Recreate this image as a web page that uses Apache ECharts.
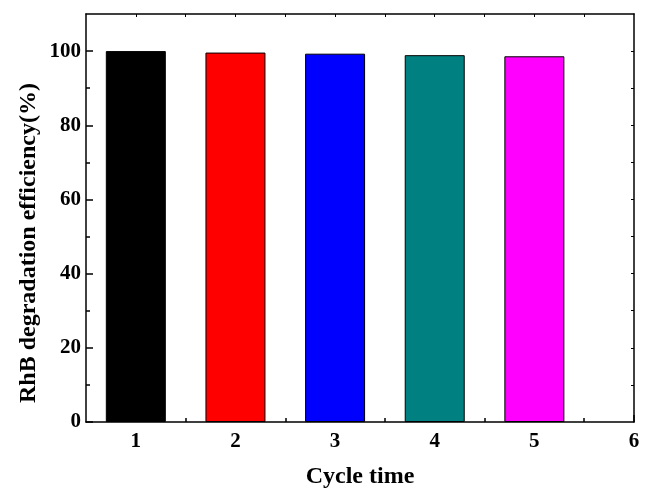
<!DOCTYPE html>
<html>
<head>
<meta charset="utf-8">
<script src="https://cdn.jsdelivr.net/npm/echarts@6/dist/echarts.min.js"></script>
<style>html,body{margin:0;padding:0;background:#fff}#c{width:648px;height:490px}</style>
</head>
<body>
<div id="c"></div>
<script>
const cycles = [1, 2, 3, 4, 5];
const efficiency = [100, 99.6, 99.3, 98.9, 98.6];
const barColors = ['#000000', '#ff0000', '#0000ff', '#008080', '#ff00ff'];
const xTickLabels = [1, 2, 3, 4, 5, 6];
const xMinorTicks = [1.5, 2.5, 3.5, 4.5, 5.5];
const yTickLabels = [0, 20, 40, 60, 80, 100];
const yMinorTicks = [10, 30, 50, 70, 90];
const xTitle = 'Cycle time';
const yTitle = 'RhB degradation efficiency(%)';

const font = 'Liberation Serif';
const axisLine = { show: true, onZero: false, lineStyle: { color: '#000', width: 1.5 } };

const chart = echarts.init(document.getElementById('c'), null, { renderer: 'canvas' });
chart.setOption({
  backgroundColor: '#fff',
  animation: false,
  grid: { left: 86, right: 14, top: 14, bottom: 68, containLabel: false, outerBoundsMode: 'none' },
  xAxis: [
    {
      type: 'value', min: 0.5, max: 6, position: 'bottom',
      axisLine: axisLine,
      axisTick: { show: true, inside: true, length: 7, customValues: xTickLabels, lineStyle: { color: '#000', width: 1.5 } },
      axisLabel: { customValues: xTickLabels, margin: 9, fontFamily: font, fontWeight: 'bold', fontSize: 21, color: '#000' },
      splitLine: { show: false },
      name: xTitle, nameLocation: 'middle', nameGap: 43,
      nameTextStyle: { fontFamily: font, fontWeight: 'bold', fontSize: 24, color: '#000' }
    },
    {
      type: 'value', min: 0.5, max: 6, position: 'bottom',
      axisLine: { show: false, onZero: false },
      axisTick: { show: true, inside: true, length: 4, customValues: xMinorTicks, lineStyle: { color: '#000', width: 1.5 } },
      axisLabel: { show: false }, splitLine: { show: false }
    },
    {
      type: 'value', min: 0.5, max: 6, position: 'top',
      axisLine: axisLine,
      axisTick: { show: true, inside: true, length: 3, customValues: [1, 1.5, 2, 2.5, 3, 3.5, 4, 4.5, 5, 5.5], lineStyle: { color: '#000', width: 1 } },
      axisLabel: { show: false }, splitLine: { show: false }
    }
  ],
  yAxis: [
    {
      type: 'value', min: 0, max: 110, position: 'left',
      axisLine: axisLine,
      axisTick: { show: true, inside: true, length: 7, customValues: yTickLabels, lineStyle: { color: '#000', width: 1.5 } },
      axisLabel: { customValues: yTickLabels, margin: 5, fontFamily: font, fontWeight: 'bold', fontSize: 21, color: '#000' },
      splitLine: { show: false }
    },
    {
      type: 'value', min: 0, max: 110, position: 'left',
      axisLine: { show: false, onZero: false },
      axisTick: { show: true, inside: true, length: 4, customValues: yMinorTicks, lineStyle: { color: '#000', width: 1.5 } },
      axisLabel: { show: false }, splitLine: { show: false }
    },
    {
      type: 'value', min: 0, max: 110, position: 'right',
      axisLine: axisLine,
      axisTick: { show: true, inside: true, length: 3, customValues: [10, 20, 30, 40, 50, 60, 70, 80, 90, 100], lineStyle: { color: '#000', width: 1 } },
      axisLabel: { show: false }, splitLine: { show: false }
    }
  ],
  graphic: [
    {
      type: 'text', x: 29, y: 243, rotation: Math.PI / 2,
      style: { text: yTitle, fontFamily: font, fontWeight: 'bold', fontSize: 24, fill: '#000', align: 'center', verticalAlign: 'middle' }
    }
  ],
  series: [
    {
      type: 'bar', xAxisIndex: 0, yAxisIndex: 0, barWidth: 60,
      data: cycles.map((c, i) => ({
        value: [c, efficiency[i]],
        itemStyle: { color: barColors[i], borderColor: '#000', borderWidth: 1 }
      }))
    }
  ]
});
</script>
</body>
</html>
